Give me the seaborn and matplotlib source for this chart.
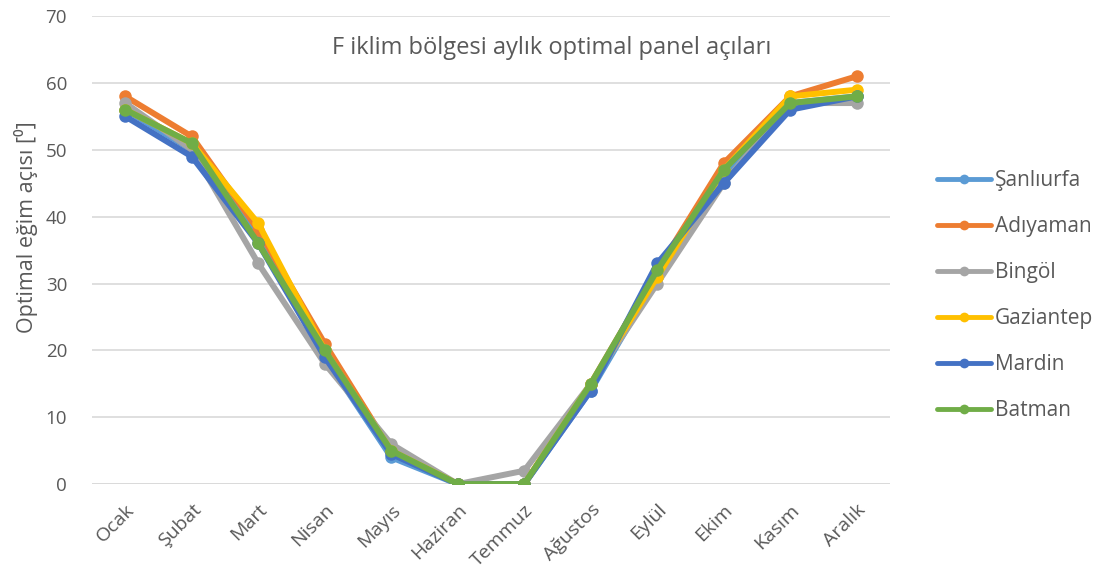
import pandas as pd
import matplotlib.pyplot as plt
import seaborn as sns

months = ['Ocak', 'Şubat', 'Mart', 'Nisan', 'Mayıs', 'Haziran',
          'Temmuz', 'Ağustos', 'Eylül', 'Ekim', 'Kasım', 'Aralık']

sanliurfa = [56, 50, 37, 19, 4, 0, 0, 14, 31, 46, 57, 58]
adiyaman = [58, 52, 38, 21, 5, 0, 0, 15, 32, 48, 58, 61]
bingol = [57, 50, 33, 18, 6, 0, 2, 15, 30, 45, 57, 57]
gaziantep = [56, 51, 39, 20, 5, 0, 0, 15, 31, 47, 58, 59]
mardin = [55, 49, 36, 19, 4.5, 0, 0, 14, 33, 45, 56, 58]
batman = [56, 51, 36, 20, 5, 0, 0, 15, 32, 47, 57, 58]

cities = ['Şanlıurfa', 'Adıyaman', 'Bingöl', 'Gaziantep', 'Mardin', 'Batman']
series = [sanliurfa, adiyaman, bingol, gaziantep, mardin, batman]
colors = ['#5B9BD5', '#ED7D31', '#A5A5A5', '#FFC000', '#4472C4', '#70AD47']

rows = []
for city, vals in zip(cities, series):
    for i, v in enumerate(vals):
        rows.append({'Ay': i, 'Açı': v, 'Şehir': city})
df = pd.DataFrame(rows)

sns.set_theme(style='white')
plt.rcParams['font.family'] = ['Open Sans', 'DejaVu Sans']

fig = plt.figure(figsize=(10.96, 5.77), dpi=100)
ax = fig.add_axes([0.084, 0.161, 0.728, 0.811])

sns.lineplot(data=df, x='Ay', y='Açı', hue='Şehir', hue_order=cities,
             palette=colors, marker='o', markersize=9, markeredgewidth=0,
             linewidth=4.3, ax=ax, legend=True)

ax.set_ylim(0, 70)
ax.set_xlim(-0.5, 11.5)
ax.set_yticks(range(0, 71, 10))
ax.set_xticks(range(12))
ax.set_xticklabels(months, rotation=45, ha='right', rotation_mode='anchor')
ax.yaxis.grid(True, color='#D9D9D9', linewidth=1.2)
ax.tick_params(axis='y', colors='#595959', labelsize=13.5, length=0, pad=18)
ax.tick_params(axis='x', colors='#595959', labelsize=14, length=0, pad=12)
for s in ax.spines.values():
    s.set_visible(False)
ax.axhline(0, color='#D9D9D9', linewidth=1.2, zorder=0)

ax.set_xlabel('')
ax.set_ylabel('Optimal eğim açısı [⁰]', color='#595959', fontsize=15.5)
ax.yaxis.set_label_coords(-0.068, 0.55)

ax.text(0.576, 0.932, 'F iklim bölgesi aylık optimal panel açıları',
        transform=ax.transAxes, ha='center', va='center',
        fontsize=17, color='#595959')

handles, labels = ax.get_legend_handles_labels()
for h in handles:
    h.set_linewidth(3.5)
    h.set_markersize(7)
ax.legend(handles, labels, loc='center left', bbox_to_anchor=(1.035, 0.403),
          frameon=False, fontsize=15, labelcolor='#595959',
          labelspacing=1.2, handlelength=2.6, handletextpad=0.2)

fig.savefig('out.png', dpi=100)
